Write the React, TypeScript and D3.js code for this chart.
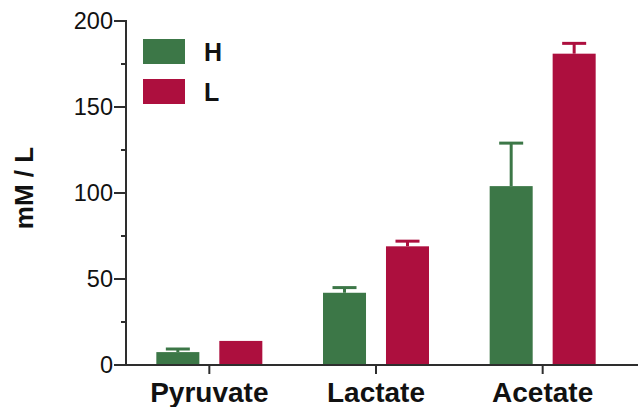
import React, { useEffect, useRef } from 'react';
import * as d3 from 'd3';

// chart data
const categories = ['Pyruvate', 'Lactate', 'Acetate'];
const seriesNames = ['H', 'L'];
const meanH = [7.5, 42, 104];
const meanL = [14, 69, 181];
const errH = [1.8, 3, 25];
const errL = [0, 3, 6];
const yTicks = [0, 50, 100, 150, 200];
const yMinorTicks = [25, 75, 125, 175];

const colors: Record<string, string> = { H: '#3c7747', L: '#ad0f3e' };

const App = () => {
  const svgRef = useRef<SVGSVGElement>(null);

  useEffect(() => {
    const svg = d3.select(svgRef.current);
    svg.selectAll('*').remove();
    const font = '"Liberation Sans", Arial, Helvetica, sans-serif';
    const axisColor = '#2e2e2e';

    const x0 = d3.scaleBand<string>().domain(categories).range([126, 626]);
    const groupW = 106;
    const x1 = d3.scaleBand<string>().domain(seriesNames).range([0, groupW]).paddingInner(0.317);
    const y = d3.scaleLinear().domain([0, 200]).range([365, 21]);

    const rows = categories.flatMap((c, i) => [
      { cat: c, s: 'H', v: meanH[i], e: errH[i] },
      { cat: c, s: 'L', v: meanL[i], e: errL[i] },
    ]);
    const bx = (d: { cat: string; s: string }) =>
      (x0(d.cat) as number) + (x0.bandwidth() - groupW) / 2 + (x1(d.s) as number);

    // error bars (upper only)
    const eb = svg.append('g');
    rows.filter(d => d.e > 0).forEach(d => {
      const cx = bx(d) + x1.bandwidth() / 2;
      eb.append('line')
        .attr('x1', cx).attr('x2', cx)
        .attr('y1', y(d.v)).attr('y2', y(d.v + d.e))
        .attr('stroke', colors[d.s]).attr('stroke-width', 3);
      eb.append('line')
        .attr('x1', cx - 12).attr('x2', cx + 12)
        .attr('y1', y(d.v + d.e)).attr('y2', y(d.v + d.e))
        .attr('stroke', colors[d.s]).attr('stroke-width', 3);
    });

    // bars
    svg.append('g')
      .selectAll('rect')
      .data(rows)
      .enter()
      .append('rect')
      .attr('x', d => bx(d))
      .attr('y', d => y(d.v))
      .attr('width', x1.bandwidth())
      .attr('height', d => y(0) - y(d.v))
      .attr('fill', d => colors[d.s]);

    // y axis
    const ya = svg.append('g');
    ya.append('line')
      .attr('x1', 126).attr('x2', 126).attr('y1', y(200) - 1).attr('y2', y(0))
      .attr('stroke', axisColor).attr('stroke-width', 2);
    yTicks.forEach(t => {
      ya.append('line')
        .attr('x1', 114).attr('x2', 126).attr('y1', y(t)).attr('y2', y(t))
        .attr('stroke', axisColor).attr('stroke-width', 2);
      ya.append('text')
        .attr('x', 113).attr('y', y(t))
        .attr('dy', '0.36em')
        .attr('text-anchor', 'end')
        .style('font-family', font).style('font-size', '23.5px').attr('fill', '#111')
        .text(t);
    });
    yMinorTicks.forEach(t => {
      ya.append('line')
        .attr('x1', 121).attr('x2', 126).attr('y1', y(t)).attr('y2', y(t))
        .attr('stroke', axisColor).attr('stroke-width', 2);
    });

    // x axis
    const xa = svg.append('g');
    xa.append('line')
      .attr('x1', 125).attr('x2', 638).attr('y1', y(0)).attr('y2', y(0))
      .attr('stroke', axisColor).attr('stroke-width', 2);
    categories.forEach(c => {
      const cx = (x0(c) as number) + x0.bandwidth() / 2;
      xa.append('line')
        .attr('x1', cx).attr('x2', cx).attr('y1', y(0)).attr('y2', y(0) + 9)
        .attr('stroke', axisColor).attr('stroke-width', 2);
      xa.append('text')
        .attr('x', cx).attr('y', 402)
        .attr('text-anchor', 'middle')
        .style('font-family', font).style('font-size', '28px').style('font-weight', 'bold')
        .attr('fill', '#111')
        .text(c);
    });

    // y label
    svg.append('text')
      .attr('transform', `translate(33,188) rotate(-90)`)
      .attr('text-anchor', 'middle')
      .style('font-family', font).style('font-size', '26px').style('font-weight', 'bold')
      .attr('fill', '#111')
      .text('mM / L');

    // legend
    const legend = svg.selectAll('.legend')
      .data(seriesNames)
      .enter()
      .append('g')
      .attr('class', 'legend')
      .attr('transform', (d, i) => `translate(143,${39 + i * 40})`);
    legend.append('rect')
      .attr('width', 42).attr('height', 25)
      .attr('fill', d => colors[d]);
    legend.append('text')
      .attr('x', 61).attr('y', 22)
      .style('font-family', font).style('font-size', '25px').style('font-weight', 'bold')
      .attr('fill', '#111')
      .text(d => d);
  }, []);

  return <svg ref={svgRef} width={638} height={407} style={{ position: 'absolute', left: 0, top: 0, background: '#fff' }} />;
};

export default App;
